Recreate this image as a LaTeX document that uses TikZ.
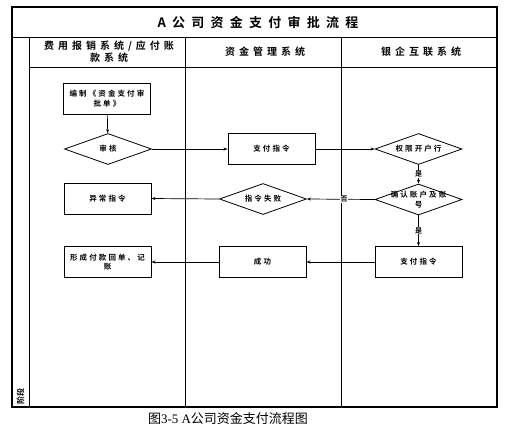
\documentclass[tikz,border=0pt]{standalone}
\usepackage{fontspec}
\newfontfamily\cjk{Noto Sans CJK SC}
\newfontfamily\cjkb{Noto Sans CJK SC Bold}
\newfontfamily\cjkbn{Noto Sans CJK SC Bold}[LetterSpace=28]
\newfontfamily\cjkbs{Noto Sans CJK SC Bold}[LetterSpace=40]
\newfontfamily\cjkbt{Noto Sans CJK SC Bold}[LetterSpace=48]
\setmainfont{Liberation Serif}
\usetikzlibrary{shapes.geometric,arrows.meta}
\begin{document}
\begin{tikzpicture}[x=1pt,y=-1pt,
  frame/.style={draw=black,line width=1.2pt},
  lane/.style={draw=black,line width=0.9pt},
  nodetext/.style={font=\cjkbn\fontsize{7.5}{9.5}\selectfont,align=center},
  procbox/.style={draw=black,line width=0.9pt,minimum width=87pt,minimum height=31pt,inner sep=1pt,text width=84pt,nodetext},
  decbox/.style={draw=black,line width=0.8pt,diamond,aspect=2.8,minimum width=87pt,minimum height=31pt,inner sep=0pt},
  dectext/.style={label={[nodetext,inner sep=0pt]center:#1}},
  flow/.style={draw=black,line width=0.7pt,-{Stealth[length=4pt,width=3pt]}},
  lbl/.style={fill=white,inner sep=0.5pt,font=\cjkb\fontsize{7}{7}\selectfont},
  head/.style={font=\cjkbs\fontsize{10}{12}\selectfont,align=center}
]
\useasboundingbox (0,0) rectangle (521,429);
% frame
\draw[frame] (12,7) rectangle (497,407);
\draw[lane] (12,37) -- (497,37);
\draw[lane] (29,67) -- (497,67);
\draw[lane] (29,37) -- (29,407);
\draw[lane] (185,37) -- (185,407);
\draw[lane] (341,37) -- (341,407);
% title and headers
\node[font=\cjkbt\fontsize{13}{15}\selectfont] (title) at (258,22) {A公司资金支付审批流程};
\node[head] (h1) at (109,52) {费用报销系统/应付账\\款系统};
\node[head] (h2) at (265,52) {资金管理系统};
\node[head] (h3) at (421,52) {银企互联系统};
\node[rotate=90,font=\cjkb\fontsize{8}{8}\selectfont,inner sep=0pt] (stage) at (20.5,396) {阶段};
% nodes
\node[procbox] (bz) at (107,98.5) {编制《资金支付审\\批单》};
\node[decbox,dectext={审核}] (sh) at (108,149) {};
\node[procbox] (zl) at (271.5,149) {支付指令};
\node[decbox,dectext={权限开户行}] (qx) at (418.5,149) {};
\node[decbox,dectext={确认账户及账\\号}] (qr) at (418.5,199.5) {};
\node[decbox,dectext={指令失败}] (sb) at (263,199) {};
\node[procbox] (yc) at (107.5,198.5) {异常指令};
\node[procbox] (zf) at (418.5,262) {支付指令};
\node[procbox] (cg) at (262.5,262) {成功};
\node[procbox] (xc) at (107.5,262) {形成付款回单、记\\账};
% connectors
\draw[flow] (bz) -- (sh);
\draw[flow] (sh.east) -- (zl.west);
\draw[flow] (zl.east) -- (qx.west);
\draw[flow] (qx.south) -- node[lbl] {是} (qr.north);
\draw[flow] (qr.west) -- node[lbl,pos=0.45] {否} (sb.east);
\draw[flow] (sb.west) -- (yc.east);
\draw[flow] (qr.south) -- node[lbl] {是} (zf.north);
\draw[flow] (zf.west) -- (cg.east);
\draw[flow] (cg.west) -- (xc.east);
% caption
\node[font=\cjk\fontsize{13}{15}\selectfont,anchor=center] (cap) at (228,419) {图{\rmfamily 3-5 A}公司资金支付流程图};
\end{tikzpicture}
\end{document}
